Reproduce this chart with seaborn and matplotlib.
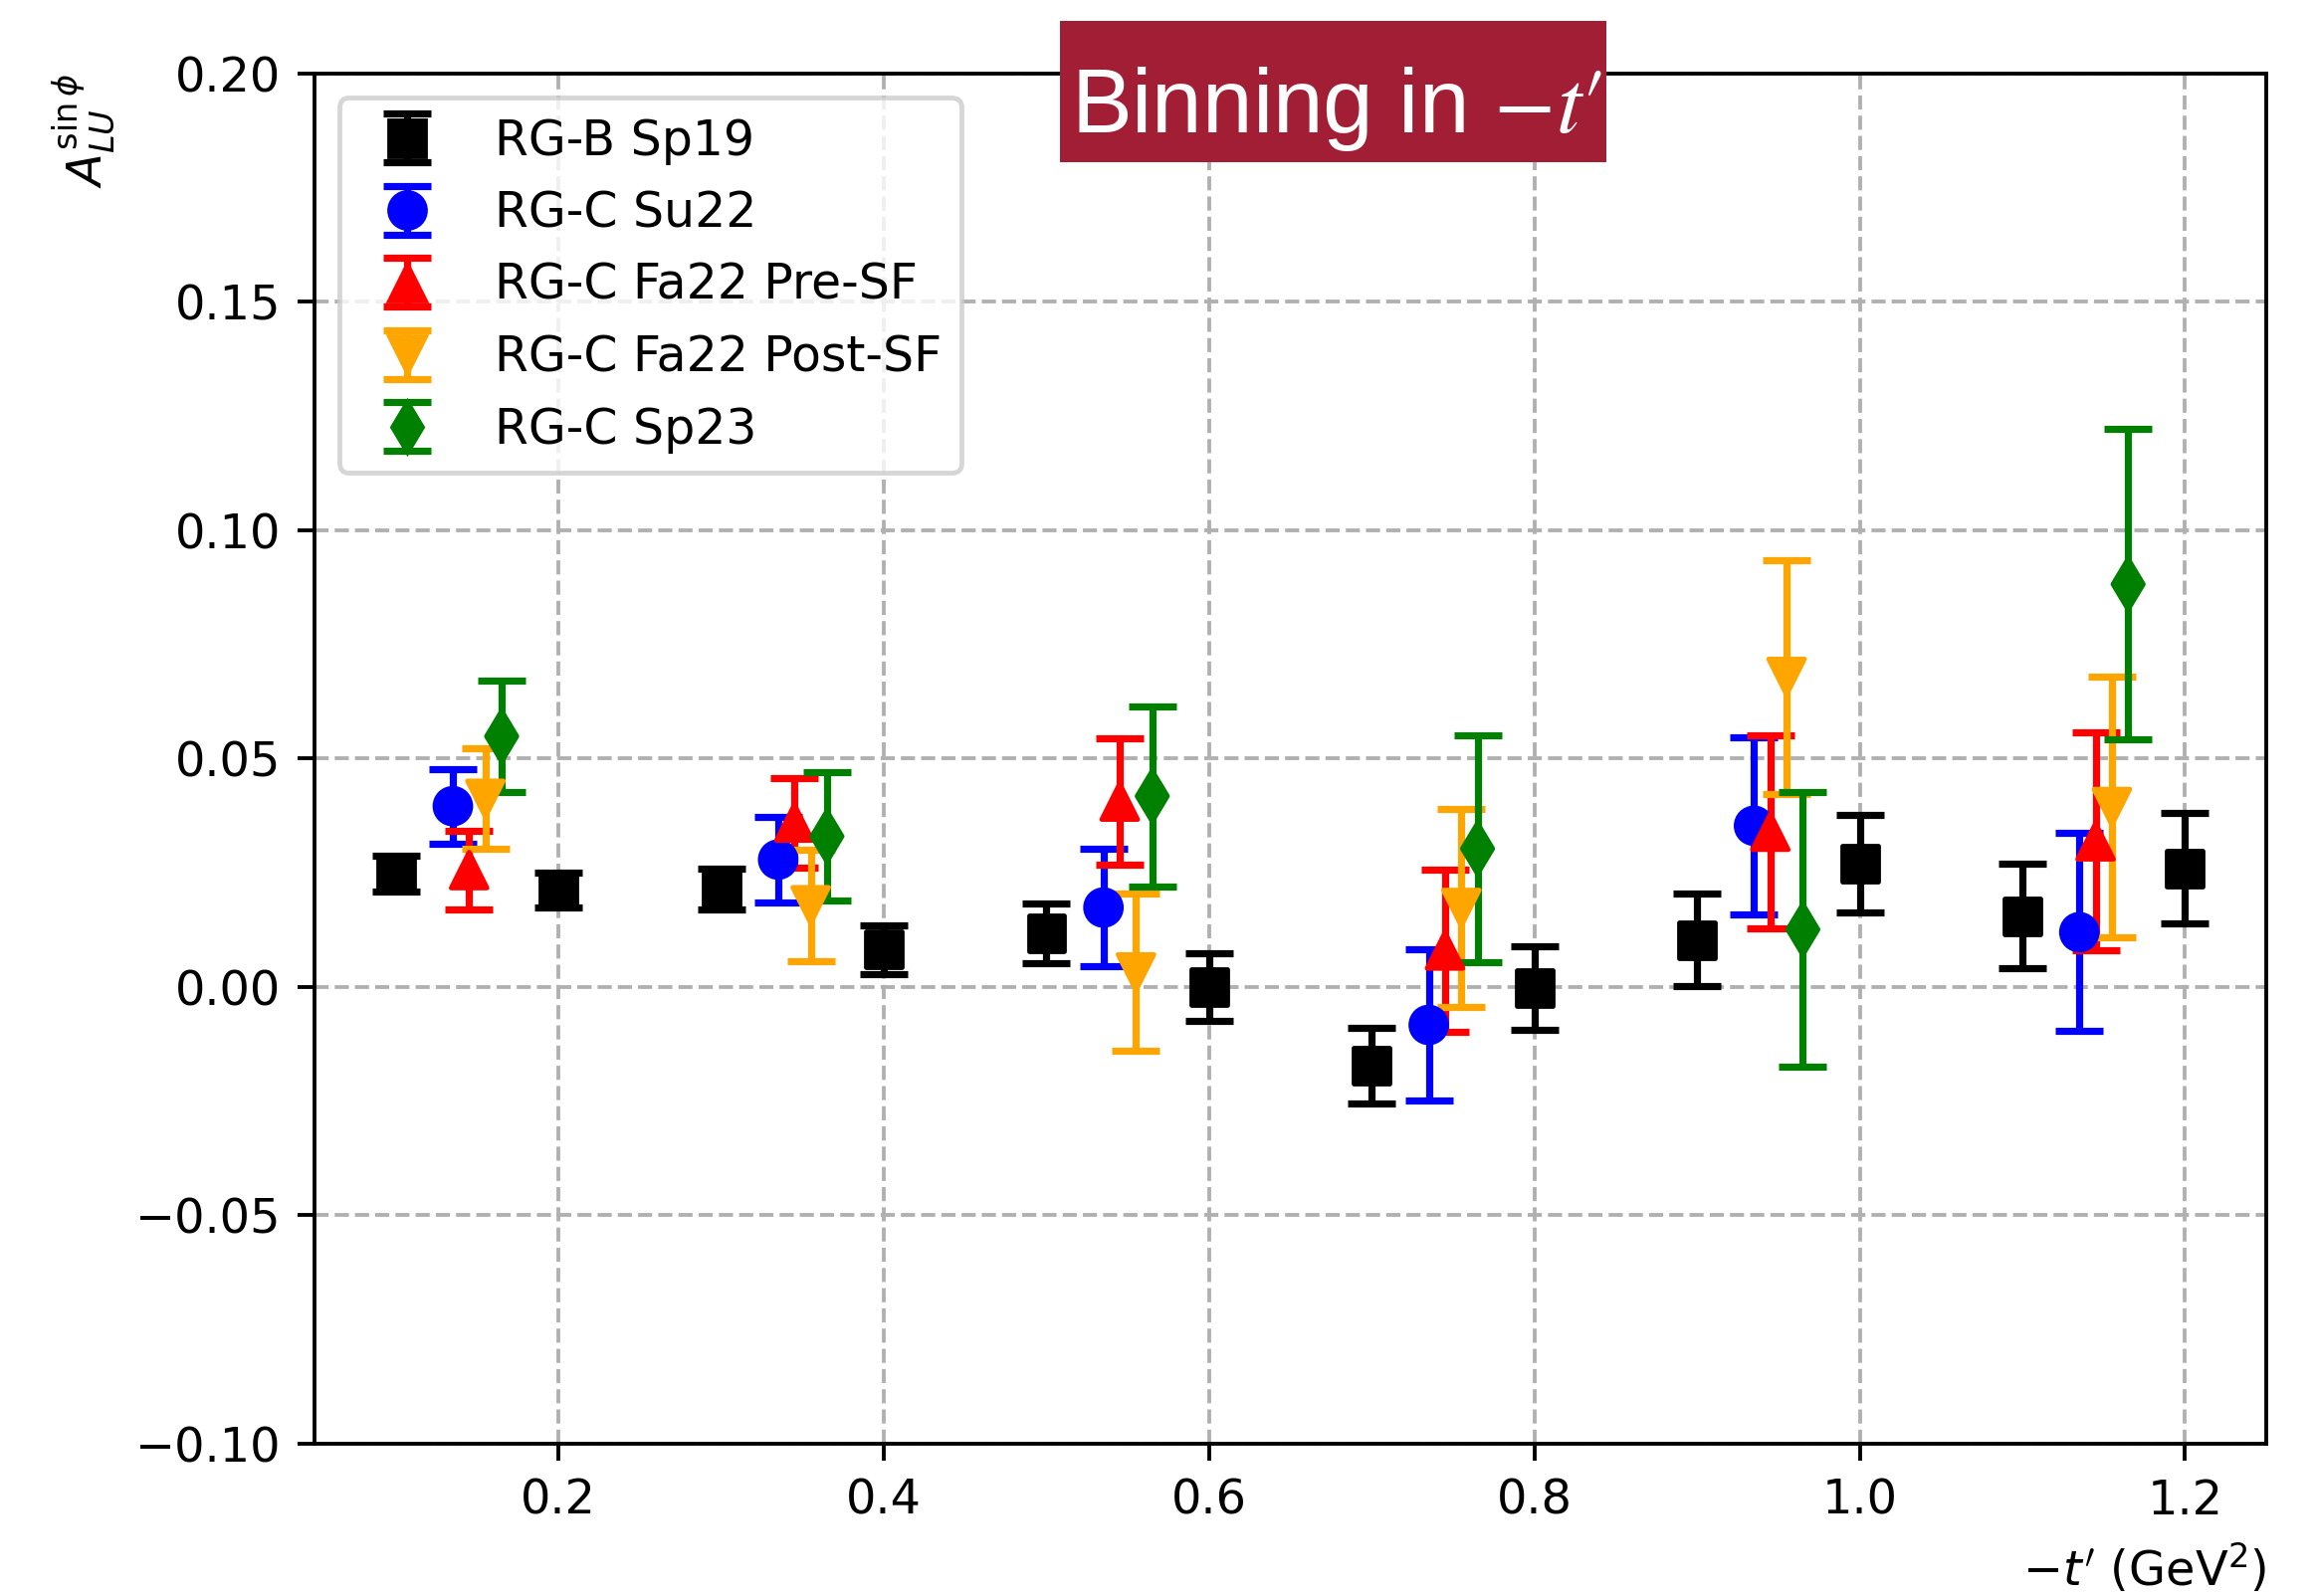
import numpy as np
import pandas as pd
import matplotlib
matplotlib.use("Agg")
import matplotlib.pyplot as plt
from matplotlib.patches import Rectangle
from matplotlib.lines import Line2D
from matplotlib.legend_handler import HandlerTuple
import seaborn as sns

# ---------------- data ----------------
labels = ["RG-B Sp19", "RG-C Su22", "RG-C Fa22 Pre-SF", "RG-C Fa22 Post-SF", "RG-C Sp23"]
colors = ["black", "blue", "red", "orange", "green"]
markers = ["s", "o", "^", "v", "d"]

x_black = [0.1, 0.2, 0.3, 0.4, 0.5, 0.6, 0.7, 0.8, 0.9, 1.0, 1.1, 1.2]
black_y = [0.0248, 0.0212, 0.0214, 0.0082, 0.0118, 0.0000, -0.0172, -0.0002, 0.0103, 0.0270, 0.0155, 0.0260]
black_err = [0.0039, 0.0038, 0.0045, 0.0053, 0.0065, 0.0074, 0.0083, 0.0092, 0.0101, 0.0107, 0.0114, 0.0121]

x_blue = [0.135, 0.335, 0.535, 0.735, 0.935, 1.135]
blue_y = [0.0396, 0.0279, 0.0174, -0.0083, 0.0353, 0.0120]
blue_err = [0.0082, 0.0094, 0.0129, 0.0166, 0.0194, 0.0217]

x_red = [0.145, 0.345, 0.545, 0.745, 0.945, 1.145]
red_y = [0.0256, 0.0360, 0.0406, 0.0080, 0.0340, 0.0319]
red_err = [0.0087, 0.0098, 0.0138, 0.0178, 0.0211, 0.0239]

x_orange = [0.155, 0.355, 0.555, 0.755, 0.955, 1.155]
orange_y = [0.0412, 0.0179, 0.0032, 0.0173, 0.0679, 0.0394]
orange_err = [0.0110, 0.0122, 0.0172, 0.0217, 0.0256, 0.0286]

x_green = [0.165, 0.365, 0.565, 0.765, 0.965, 1.165]
green_y = [0.0549, 0.0330, 0.0418, 0.0303, 0.0126, 0.0882]
green_err = [0.0123, 0.0140, 0.0197, 0.0249, 0.0300, 0.0340]

series_x = [x_black, x_blue, x_red, x_orange, x_green]
series_y = [black_y, blue_y, red_y, orange_y, green_y]
series_e = [black_err, blue_err, red_err, orange_err, green_err]

df = pd.concat([
    pd.DataFrame({"x": sx, "y": sy, "err": se, "dataset": lab})
    for sx, sy, se, lab in zip(series_x, series_y, series_e, labels)
], ignore_index=True)

# ---------------- figure ----------------
DPI = 345
fig = plt.figure(figsize=(2326 / DPI, 1604 / DPI), dpi=DPI)
ax = fig.add_axes([0.1359, 0.0954, 0.979 - 0.1359, 0.9539 - 0.0954])

MS = 7.5
handles = []
for lab, col, mk in zip(labels, colors, markers):
    sub = df[df["dataset"] == lab]
    eb = ax.errorbar(sub["x"], sub["y"], yerr=sub["err"], fmt="none",
                     ecolor=col, elinewidth=1.5, capsize=5, capthick=1.5, zorder=2)
    proxy = Line2D([], [], marker=mk, color=col, linestyle="none",
                   markersize=MS, markeredgecolor=col)
    handles.append((eb, proxy))

sns.scatterplot(data=df, x="x", y="y", hue="dataset", style="dataset",
                hue_order=labels, style_order=labels,
                palette=dict(zip(labels, colors)),
                markers=dict(zip(labels, markers)),
                s=MS ** 2, edgecolor="face", linewidth=1.0,
                legend=False, ax=ax, zorder=3)

ax.set_xlim(0.05, 1.25)
ax.set_ylim(-0.10, 0.20)
ax.set_yticks(np.arange(-0.10, 0.2001, 0.05))
ax.set_xticks([0.2, 0.4, 0.6, 0.8, 1.0, 1.2])
ax.grid(True, linestyle="--", color="#b0b0b0", linewidth=0.8)
ax.set_axisbelow(True)

ax.set_xlabel(r"$-t'$ (GeV$^2$)", loc="right")
ax.set_ylabel(r"$A_{LU}^{\sin\phi}$", loc="top")

ax.legend(handles, labels, loc="upper left", fontsize=10.2,
          handler_map={tuple: HandlerTuple(ndivide=1)})

# title box
fig.patches.append(Rectangle((1065 / 2326, 1 - 163 / 1604), 549 / 2326, 142 / 1604,
                             transform=fig.transFigure, facecolor="#A21E35",
                             edgecolor="none", zorder=10))
fig.text(1343 / 2326, 1 - 133 / 1604, r"Binning in $-t\prime$", color="white",
         fontsize=19, family="Liberation Sans", math_fontfamily="stix",
         ha="center", va="baseline", zorder=11)

fig.savefig("out.png", dpi=DPI)
